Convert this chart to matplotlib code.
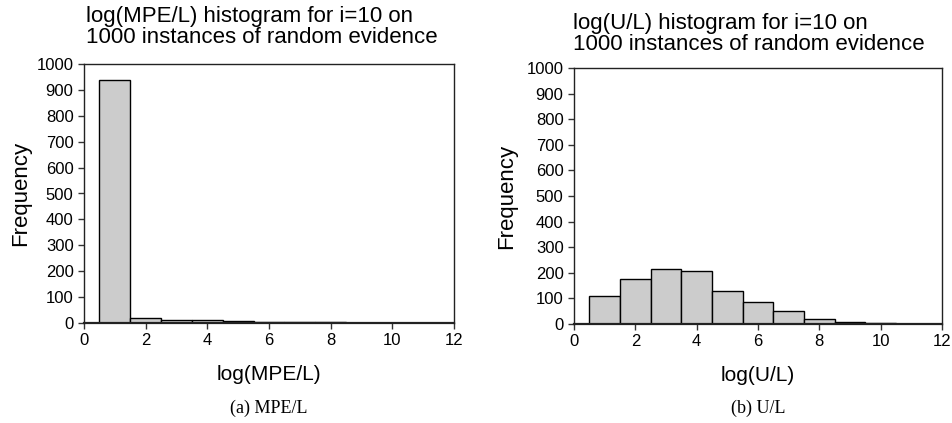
import numpy as np
import matplotlib
matplotlib.use("Agg")
import matplotlib.pyplot as plt

plt.rcParams['font.family'] = ['Liberation Sans', 'DejaVu Sans']

# histogram bins (bin centres) and counts
bins = [1, 2, 3, 4, 5, 6, 7, 8, 9, 10, 11]
mpe_counts = [938, 20, 10, 10, 8, 4, 3, 3, 1, 1, 0]
ul_counts = [109, 174, 216, 207, 128, 86, 51, 20, 9, 3, 1]

titles = ["log(MPE/L) histogram for i=10 on\n1000 instances of random evidence",
          "log(U/L) histogram for i=10 on\n1000 instances of random evidence"]
xlabels = ["log(MPE/L)", "log(U/L)"]
captions = ["(a) MPE/L", "(b) U/L"]

W, H = 953, 423
fig = plt.figure(figsize=(W/100, H/100), dpi=100)

# axes boxes in pixels: left, top, right, bottom
boxes = [(84, 64, 454, 323), (574, 68, 942, 324)]
title_pos = [(86, 6), (573, 13)]
ylab_x = [21, 507]

for k, counts in enumerate([mpe_counts, ul_counts]):
    l, t, r, b = boxes[k]
    ax = fig.add_axes([l/W, (H-b)/H, (r-l)/W, (b-t)/H])
    ax.bar(bins, counts, width=1.0, color='#cccccc', edgecolor='black', linewidth=1.0)
    ax.set_xlim(0, 12)
    ax.set_ylim(0, 1000)
    ax.set_xticks(range(0, 13, 2))
    ax.set_yticks(range(0, 1001, 100))
    ax.tick_params(labelsize=12, length=4, width=1, color='#333333')
    for s in ax.spines.values():
        s.set_linewidth(1.0)
        s.set_color('#222222')
    ax.spines['bottom'].set_linewidth(1.6)
    ax.set_xlabel(xlabels[k], fontsize=15, labelpad=12)

    tx, ty = title_pos[k]
    fig.text(tx/W, 1 - ty/H, titles[k], ha='left', va='top', fontsize=16, linespacing=1.0)
    fig.text(ylab_x[k]/W, 1 - ((t+b)/2)/H, "Frequency", rotation=90,
             ha='center', va='center', fontsize=16)
    fig.text(((l+r)/2)/W, 1 - 408/H, captions[k], ha='center', va='center',
             fontsize=13, family='Liberation Serif')

fig.savefig("out.png", dpi=100)
